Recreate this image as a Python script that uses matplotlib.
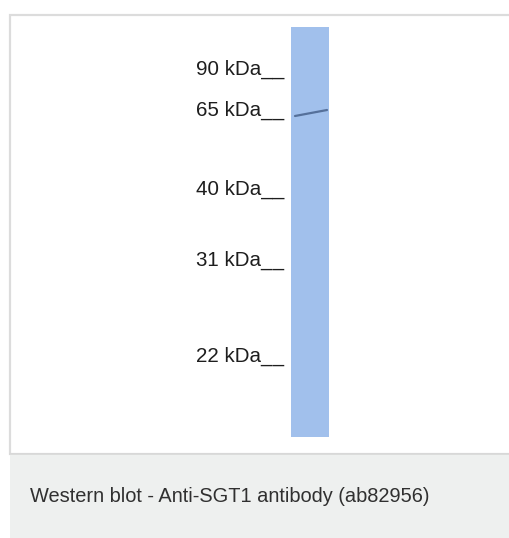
import matplotlib.pyplot as plt
from matplotlib.patches import Rectangle

# marker ladder (kDa) and the row each one ran to on the blot (text baseline)
marker_labels = ["90 kDa", "65 kDa", "40 kDa", "31 kDa", "22 kDa"]
marker_y = [75, 116, 195, 266, 362]

# the single detected band (left / right edge rows, slightly tilted)
band_x = [295, 327]
band_y = [116, 110]

caption = "Western blot - Anti-SGT1 antibody (ab82956)"

W, H = 510, 538
fig = plt.figure(figsize=(W / 100, H / 100), dpi=100)
ax = fig.add_axes([0, 0, 1, 1])
ax.set_xlim(0, W)
ax.set_ylim(H, 0)
ax.axis("off")

# card frame + grey caption strip
ax.add_patch(Rectangle((10, 15), 520, 439, facecolor="white", edgecolor="#dcdcdc", lw=1.6))
ax.add_patch(Rectangle((10, 454), 520, 90, facecolor="#eef0ef", edgecolor="none"))
ax.plot([10, 510], [454, 454], color="#d8d8d8", lw=1.2)

# lane
ax.add_patch(Rectangle((291, 27), 38, 410, facecolor="#a1c0ec", edgecolor="none"))
ax.plot(band_x, band_y, color="#55709a", lw=1.6, solid_capstyle="round")

for lab, y in zip(marker_labels, marker_y):
    ax.text(196, y, lab + "__", fontsize=14.8, family="Liberation Sans",
            va="baseline", ha="left", color="#1e1e1e")

ax.text(30, 497, caption, fontsize=14.4, family="Liberation Sans",
        va="center", ha="left", color="#303030")

fig.savefig("out.png", dpi=100)
